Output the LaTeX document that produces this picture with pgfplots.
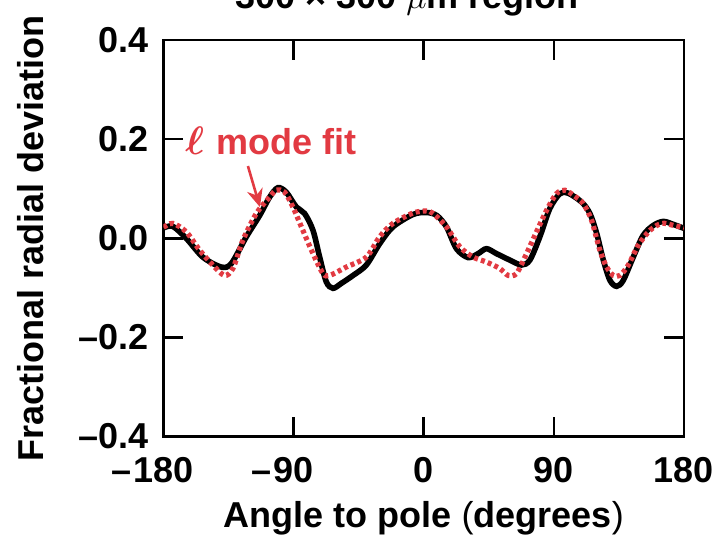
\documentclass[border=0pt]{standalone}
\usepackage{amsmath}
\usepackage{bm}
\usepackage{fontspec}
\setmainfont{Liberation Sans}
\usepackage{pgfplots}
\pgfplotsset{compat=1.18}
\usetikzlibrary{arrows.meta}
\definecolor{fitred}{RGB}{226,58,66}
\begin{document}
\begin{tikzpicture}[font=\bfseries\fontsize{18}{21}\selectfont]
\begin{axis}[
  width=260.25pt, height=198.25pt, scale only axis,
  xmin=-180, xmax=180, ymin=-0.4, ymax=0.4,
  xtick={-180,-90,0,90,180},
  xticklabels={\llap{–\kern1pt}180,\llap{–\kern1pt}90,0,90,180},
  ytick={-0.4,-0.2,0,0.2,0.4},
  yticklabels={–0.4,–0.2,0.0,0.2,0.4},
  tick align=inside,
  major tick length=10pt,
  every tick/.style={black, line width=1.3pt},
  axis line style={line width=1.3pt},
  xticklabel style={anchor=north, inner sep=0pt, yshift=-10pt},
  yticklabel style={anchor=east, inner sep=0pt, xshift=-7.5pt},
  xlabel={Angle to pole \textmd{(}degrees\textmd{)}},
  ylabel={Fractional radial deviation},
  xlabel style={at={(axis description cs:0.5,-0.2295)}, anchor=base},
  ylabel style={at={(axis description cs:-0.2305,0.5)}, anchor=base, rotate=0},
  clip=true,
]
\addplot[black, line width=2.8pt, smooth, tension=0.5] coordinates {
(-180,0.021) (-173.6,0.024) (-164.3,0.0) (-152.8,-0.038) (-140.1,-0.058)
(-133.1,-0.051) (-122.7,0.003) (-113.5,0.046) (-106.6,0.083) (-100.9,0.102)
(-95.1,0.093) (-88.1,0.063) (-82.4,0.05) (-76.6,0.016) (-72,-0.038)
(-67.4,-0.088) (-62.8,-0.101) (-57,-0.091) (-48.9,-0.075) (-39.7,-0.054)
(-30.5,-0.011) (-21.3,0.023) (-7.4,0.048) (1.8,0.052) (9,0.046)
(15.7,0.023) (22.6,-0.021) (30.7,-0.039) (37.6,-0.031) (43.4,-0.021)
(50.3,-0.031) (59.5,-0.044) (67.6,-0.054) (73.4,-0.044) (80.3,0.003)
(87.2,0.06) (94.2,0.09) (99.9,0.091) (109.2,0.073) (114.9,0.05)
(119.6,0.01) (124.2,-0.044) (128.8,-0.085) (133.4,-0.097) (138,-0.085)
(144.9,-0.038) (151.8,0.006) (158.8,0.026) (165.7,0.034) (172.6,0.028)
(180,0.02)
};
\addplot[fitred, line width=2.6pt, smooth, tension=0.5, dash pattern=on 2pt off 1.6pt] coordinates {
(-180,0.022) (-173.6,0.03) (-164.3,0.013) (-155,-0.024) (-145.9,-0.054)
(-137.8,-0.075) (-132,-0.061) (-125.1,-0.004) (-115.8,0.05) (-106.6,0.083)
(-102,0.097) (-96.2,0.093) (-90.5,0.063) (-83.6,0.016) (-76.6,-0.031)
(-69.7,-0.071) (-65.1,-0.075) (-53.5,-0.058) (-39.7,-0.038) (-30.5,0.003)
(-21.3,0.03) (-7.4,0.051) (1.8,0.055) (6.5,0.05) (15.7,0.023)
(24.9,-0.017) (34.1,-0.038) (43.4,-0.048) (52.6,-0.061) (58.4,-0.075)
(64.2,-0.071) (71.1,-0.031) (78,0.013) (84.9,0.056) (91.8,0.09)
(97.6,0.097) (103.4,0.087) (110.3,0.07) (116.1,0.036) (121.8,-0.024)
(126.5,-0.058) (131.1,-0.075) (135.7,-0.075) (141.5,-0.054) (148.4,-0.014)
(156.5,0.016) (164.6,0.03) (172.6,0.026) (180,0.021)
};
\node[anchor=base west, inner sep=0pt, text=fitred] at (axis cs:-165.1,0.169) {\scalebox{1.15}{$\bm{\ell}$}\kern1pt{} mode fit};
\draw[fitred, line width=1.3pt, -{Stealth[length=9pt,width=8pt]}] (axis cs:-121.6,0.1457) -- (axis cs:-113.3,0.063);
\end{axis}
\node[anchor=base, inner sep=0pt] at (121.75pt,214.25pt) {300 × 300 \(\mu\)m region};
\pgfresetboundingbox
\useasboundingbox (-81.75pt,-50.25pt) rectangle (277.75pt,218.25pt);
\end{tikzpicture}
\end{document}
